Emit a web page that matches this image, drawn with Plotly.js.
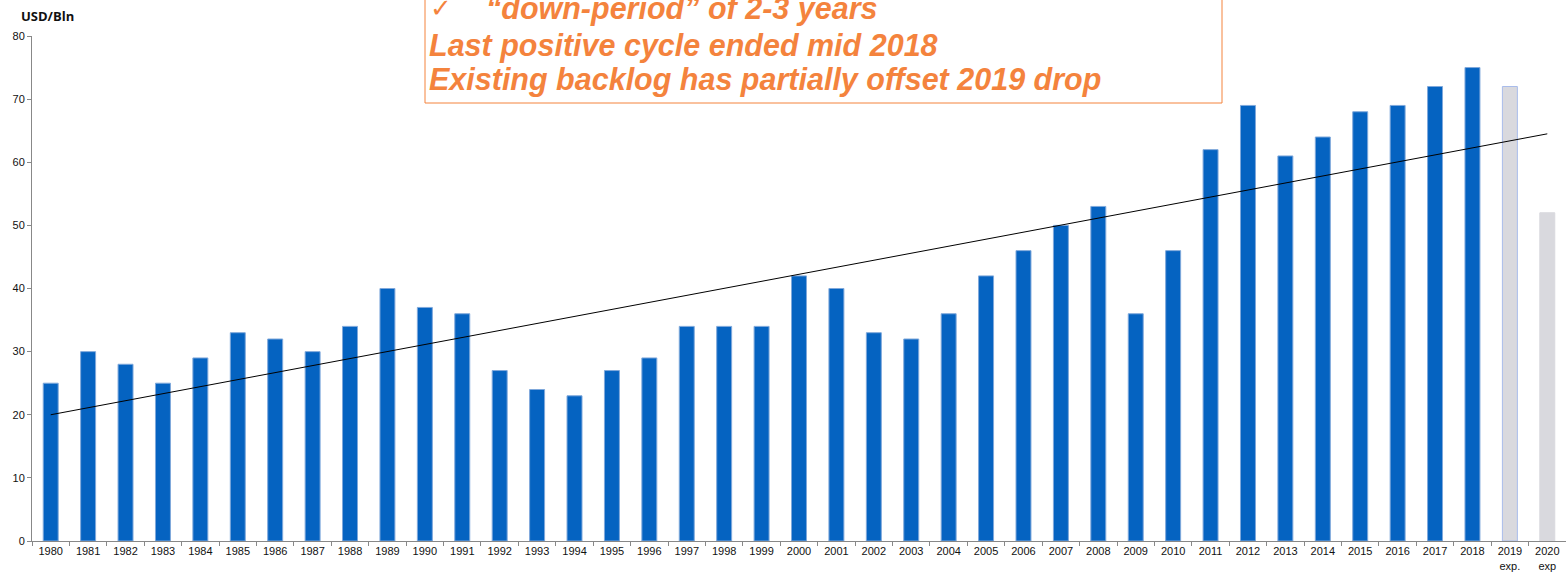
<!DOCTYPE html>
<html>
<head>
<meta charset="utf-8">
<script src="https://cdn.plot.ly/plotly-3.0.1.min.js"></script>
<style>html,body{margin:0;padding:0;background:#fff;}#chart{width:1566px;height:576px;}</style>
</head>
<body>
<div id="chart"></div>
<script>
const years = ['1980','1981','1982','1983','1984','1985','1986','1987','1988','1989','1990','1991','1992','1993','1994','1995','1996','1997','1998','1999','2000','2001','2002','2003','2004','2005','2006','2007','2008','2009','2010','2011','2012','2013','2014','2015','2016','2017','2018','2019 exp.','2020 exp'];
const tickLabels = ['1980','1981','1982','1983','1984','1985','1986','1987','1988','1989','1990','1991','1992','1993','1994','1995','1996','1997','1998','1999','2000','2001','2002','2003','2004','2005','2006','2007','2008','2009','2010','2011','2012','2013','2014','2015','2016','2017','2018','2019<br>exp.','2020<br>exp'];
const values = [25,30,28,25,29,33,32,30,34,40,37,36,27,24,23,27,29,34,34,34,42,40,33,32,36,42,46,50,53,36,46,62,69,61,64,68,69,72,75,72,52];
const isForecast = years.map(y => y.indexOf('exp') >= 0);
const trendX = ['1980','2020 exp'];
const trendY = [20, 64.5];
const axisTitle = 'USD/Bln';
const checkMark = '\u2713';
const boxLines = ['\u201cdown-period\u201d of 2-3 years','Last positive cycle ended mid 2018','Existing backlog has partially offset 2019 drop'];

const blue = '#0563C1', grey = '#D9D9DE', orange = '#F4833D';

const bars = {
  type: 'bar', x: years, y: values, width: 0.4,
  marker: {
    color: isForecast.map(f => f ? grey : blue),
    line: {color: years.map((y,i) => i === years.length-2 ? '#A9BCEB' : (isForecast[i] ? grey : '#7FA8DB')), width: 1}
  },
  hoverinfo: 'x+y'
};
const trend = {type: 'scatter', mode: 'lines', x: trendX, y: trendY, line: {color: '#000', width: 1}, hoverinfo: 'skip'};

const L = 32, W = 1534, T = 36, H = 505;
const px = x => (x - L) / W;
const py = y => (T + H - y) / H;

const textFont = {family: '"Liberation Sans", Arial, sans-serif', size: 30.5, color: orange, weight: 'bold', style: 'italic'};

const layout = {
  width: 1566, height: 576,
  margin: {l: L, r: 0, t: T, b: 576 - T - H},
  paper_bgcolor: '#fff', plot_bgcolor: '#fff',
  showlegend: false,
  bargap: 0.6,
  xaxis: {
    type: 'category', tickmode: 'array', tickvals: years, ticktext: tickLabels,
    tickson: 'boundaries', ticks: 'outside', ticklen: 4, tickcolor: '#888',
    showline: true, linecolor: '#888', linewidth: 1, showgrid: false, zeroline: false,
    tickfont: {family: '"Liberation Sans", Arial, sans-serif', size: 11, color: '#111'},
    range: [-0.5, years.length - 0.5]
  },
  yaxis: {
    range: [0, 80], dtick: 10, ticks: 'outside', ticklen: 4, tickcolor: '#888',
    showline: true, linecolor: '#888', linewidth: 1, showgrid: false, zeroline: false,
    tickfont: {family: '"Liberation Sans", Arial, sans-serif', size: 11, color: '#111'}
  },
  shapes: [
    {type: 'rect', xref: 'paper', yref: 'paper', x0: px(425), x1: px(1222), y0: py(103), y1: py(-5), line: {color: orange, width: 1}, fillcolor: 'rgba(255,255,255,0)'}
  ],
  annotations: [
    {xref: 'paper', yref: 'paper', x: px(19), y: py(16), xanchor: 'left', yanchor: 'middle', text: '<b>' + axisTitle + '</b>', showarrow: false, font: {family: '"Open Sans", "Noto Sans", sans-serif', size: 13, color: '#111'}},
    {xref: 'paper', yref: 'paper', x: px(428), y: py(8), xanchor: 'left', yanchor: 'middle', text: '<b>' + checkMark + '</b>', showarrow: false, font: {family: '"DejaVu Sans", sans-serif', size: 26, color: orange}},
    {xref: 'paper', yref: 'paper', x: px(484), y: py(9), xanchor: 'left', yanchor: 'middle', text: boxLines[0], showarrow: false, font: textFont},
    {xref: 'paper', yref: 'paper', x: px(427), y: py(45), xanchor: 'left', yanchor: 'middle', text: boxLines[1], showarrow: false, font: textFont},
    {xref: 'paper', yref: 'paper', x: px(427), y: py(80), xanchor: 'left', yanchor: 'middle', text: boxLines[2], showarrow: false, font: textFont}
  ]
};

Plotly.newPlot('chart', [bars, trend], layout, {displayModeBar: false, staticPlot: true});
</script>
</body>
</html>
